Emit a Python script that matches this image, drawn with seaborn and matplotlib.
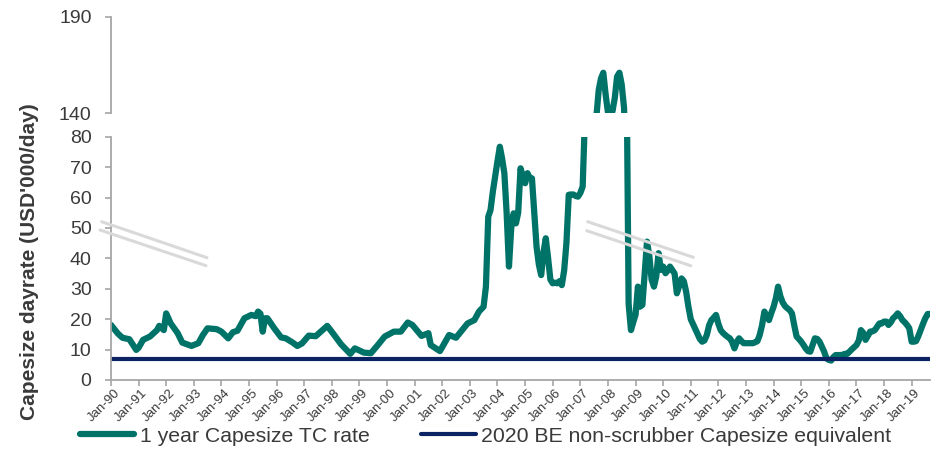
import pandas as pd
import seaborn as sns
import matplotlib.pyplot as plt
import matplotlib.dates as mdates
from matplotlib.lines import Line2D
from matplotlib.transforms import ScaledTranslation

# 1 year Capesize TC rate, USD'000/day
months = [
    "1990-01", "1990-04", "1990-06", "1990-09", "1990-12", "1991-01", "1991-03", "1991-06",
    "1991-09", "1991-10", "1991-12", "1992-01", "1992-03", "1992-06", "1992-08", "1992-12",
    "1993-03", "1993-05", "1993-07", "1993-11", "1994-01", "1994-04", "1994-06", "1994-08",
    "1994-11", "1995-02", "1995-04", "1995-05", "1995-06", "1995-07", "1995-08", "1995-09",
    "1995-12", "1996-03", "1996-05", "1996-08", "1996-10", "1996-12", "1997-03", "1997-06",
    "1997-11", "1998-02", "1998-05", "1998-09", "1998-11", "1999-03", "1999-06", "1999-09",
    "1999-12", "2000-04", "2000-07", "2000-10", "2000-12", "2001-04", "2001-07", "2001-08",
    "2001-12", "2002-04", "2002-07", "2002-12", "2003-03", "2003-05", "2003-07", "2003-08",
    "2003-09", "2003-10", "2003-11", "2003-12", "2004-01", "2004-02", "2004-03", "2004-04",
    "2004-05", "2004-06", "2004-07", "2004-08", "2004-09", "2004-10", "2004-11", "2004-12",
    "2005-01", "2005-02", "2005-03", "2005-04", "2005-05", "2005-06", "2005-07", "2005-08",
    "2005-09", "2005-10", "2005-11", "2005-12", "2006-01", "2006-02", "2006-03", "2006-04",
    "2006-05", "2006-06", "2006-07", "2006-08", "2006-09", "2006-10", "2006-11", "2006-12",
    "2007-01", "2007-02", "2007-03", "2007-04", "2007-05", "2007-06", "2007-07", "2007-08",
    "2007-09", "2007-10", "2007-11", "2007-12", "2008-01", "2008-02", "2008-03", "2008-04",
    "2008-05", "2008-06", "2008-07", "2008-08", "2008-09", "2008-10", "2008-11", "2008-12",
    "2009-01", "2009-02", "2009-03", "2009-04", "2009-05", "2009-06", "2009-07", "2009-08",
    "2009-09", "2009-10", "2009-11", "2009-12", "2010-01", "2010-02", "2010-03", "2010-04",
    "2010-05", "2010-06", "2010-07", "2010-08", "2010-09", "2010-10", "2010-11", "2010-12",
    "2011-01", "2011-02", "2011-03", "2011-04", "2011-05", "2011-06", "2011-07", "2011-08",
    "2011-09", "2011-10", "2011-11", "2011-12", "2012-01", "2012-02", "2012-03", "2012-04",
    "2012-05", "2012-06", "2012-07", "2012-08", "2012-09", "2012-10", "2012-11", "2012-12",
    "2013-02", "2013-04", "2013-05", "2013-06", "2013-07", "2013-08", "2013-09", "2013-10",
    "2013-11", "2013-12", "2014-01", "2014-02", "2014-03", "2014-04", "2014-05", "2014-06",
    "2014-07", "2014-08", "2014-09", "2014-10", "2014-11", "2014-12", "2015-01", "2015-02",
    "2015-03", "2015-04", "2015-05", "2015-06", "2015-07", "2015-08", "2015-09", "2015-10",
    "2015-11", "2015-12", "2016-01", "2016-02", "2016-03", "2016-04", "2016-05", "2016-06",
    "2016-07", "2016-08", "2016-09", "2016-10", "2016-11", "2016-12", "2017-01", "2017-02",
    "2017-03", "2017-04", "2017-05", "2017-06", "2017-07", "2017-08", "2017-09", "2017-10",
    "2017-11", "2017-12", "2018-01", "2018-02", "2018-03", "2018-04", "2018-05", "2018-06",
    "2018-07", "2018-08", "2018-09", "2018-10", "2018-11", "2018-12", "2019-01", "2019-02",
    "2019-03", "2019-04", "2019-05", "2019-06", "2019-07", "2019-08", "2019-09",
]
tc_rate = [
    18.1, 15.3, 13.9, 13.4, 9.9, 10.6, 13.2, 14.3,
    16.4, 17.8, 16.4, 21.9, 18.6, 15.4, 12.3, 11.2,
    12.1, 14.8, 17.0, 16.7, 15.9, 13.7, 15.7, 16.2,
    20.3, 21.4, 21.0, 22.5, 21.8, 15.9, 20.3, 20.3,
    17.0, 14.0, 13.7, 12.3, 11.2, 12.0, 14.6, 14.4,
    17.8, 14.8, 11.8, 8.6, 10.4, 9.0, 8.8, 11.5,
    14.3, 15.9, 15.9, 18.9, 18.1, 14.5, 15.4, 11.5,
    9.5, 14.8, 13.9, 18.6, 19.7, 22.5, 24.1, 30.7,
    53.7, 55.9, 62.0, 67.0, 72.0, 76.7, 73.0, 68.0,
    55.0, 37.3, 50.0, 54.8, 51.5, 55.0, 69.6, 67.0,
    64.7, 68.0, 66.5, 66.3, 55.0, 43.8, 38.0, 34.5,
    42.0, 46.6, 40.0, 33.0, 31.8, 32.0, 31.8, 32.5,
    31.2, 36.0, 45.0, 60.9, 61.0, 61.0, 60.5, 60.3,
    61.5, 63.6, 85.0, 100.0, 115.0, 124.0, 132.0, 138.0,
    152.0, 158.0, 161.0, 150.0, 140.6, 140.4, 141.0, 148.0,
    159.0, 161.0, 155.0, 143.0, 110.0, 25.0, 16.4, 19.0,
    21.5, 30.7, 24.1, 24.7, 35.0, 45.5, 41.0, 33.0,
    30.7, 34.0, 41.7, 36.2, 37.3, 35.1, 36.0, 37.3,
    36.2, 35.0, 28.5, 31.0, 33.4, 32.5, 29.0, 24.1,
    20.0, 18.3, 16.8, 15.0, 13.5, 12.6, 13.0, 14.8,
    18.0, 19.7, 20.5, 21.4, 18.5, 16.4, 15.5, 14.8,
    14.2, 13.7, 12.5, 10.4, 12.5, 13.7, 12.8, 12.1,
    12.1, 12.1, 12.4, 12.8, 14.8, 18.0, 22.5, 21.0,
    19.7, 22.0, 24.1, 27.0, 30.7, 27.5, 25.5, 24.3,
    23.6, 23.0, 21.9, 18.0, 14.3, 13.5, 12.6, 11.5,
    10.4, 9.5, 9.3, 11.5, 13.7, 13.5, 12.6, 11.0,
    9.3, 7.1, 6.6, 6.4, 7.5, 8.2, 8.2, 8.2,
    8.3, 8.6, 8.6, 9.3, 10.1, 10.8, 11.5, 13.0,
    16.4, 15.5, 13.2, 14.5, 15.9, 16.0, 16.4, 17.5,
    18.6, 18.6, 19.2, 19.2, 18.1, 19.0, 20.3, 21.0,
    21.9, 21.0, 19.7, 19.0, 18.1, 17.0, 12.6, 12.6,
    12.8, 14.5, 16.5, 18.5, 20.3, 21.7, 21.7,
]
# 2020 breakeven, non-scrubber Capesize equivalent
be_months = ["1990-01", "2019-09"]
be_level = [7.0, 7.0]

upper_ticks = [140, 190]
lower_ticks = [0, 10, 20, 30, 40, 50, 60, 70, 80]

TEAL = "#007369"
NAVY = "#0b2263"
GREY_TXT = "#3a3a3a"
AXIS_GREY = "#a6a6a6"
TEAL_LW = 4.5
NAVY_LW = 3.0

df = pd.DataFrame({"date": pd.to_datetime(months), "rate": tc_rate})
be = pd.DataFrame({"date": pd.to_datetime(be_months), "rate": be_level})

sns.set_theme(style="white")
plt.rcParams["font.family"] = ["Liberation Sans", "DejaVu Sans"]

W, H = 940, 449
fig = plt.figure(figsize=(W / 100, H / 100), dpi=100)
ax_top = fig.add_axes([111 / W, 1 - 113.3 / H, 819 / W, 96.6 / H])
ax = fig.add_axes([111 / W, 1 - 380 / H, 819 / W, 243.3 / H], sharex=ax_top)

for a in (ax_top, ax):
    sns.lineplot(data=df, x="date", y="rate", ax=a, color=TEAL, lw=TEAL_LW,
                 solid_joinstyle="round", solid_capstyle="round",
                 label="1 year Capesize TC rate", legend=False)
sns.lineplot(data=be, x="date", y="rate", ax=ax, color=NAVY, lw=NAVY_LW,
             label="2020 BE non-scrubber Capesize equivalent", legend=False)

ax_top.set_ylim(upper_ticks[0], upper_ticks[-1])
ax_top.set_yticks(upper_ticks)
ax.set_ylim(lower_ticks[0], lower_ticks[-1])
ax.set_yticks(lower_ticks)
ax.set_xlim(pd.Timestamp("1990-01-01"), pd.Timestamp("2019-09-01"))

for a in (ax_top, ax):
    a.set_xlabel("")
    a.set_ylabel("")
    for s in ("top", "right"):
        a.spines[s].set_visible(False)
    a.spines["left"].set_color(AXIS_GREY)
    a.spines["left"].set_linewidth(1.3)
    a.tick_params(axis="y", colors=AXIS_GREY, labelcolor=GREY_TXT, labelsize=14,
                  length=4, width=1.2, direction="out", left=True, pad=10)

ax_top.spines["bottom"].set_visible(False)
ax_top.tick_params(axis="x", bottom=False, labelbottom=False)

ax.spines["bottom"].set_color(AXIS_GREY)
ax.spines["bottom"].set_linewidth(1.3)
ax.xaxis.set_major_locator(mdates.YearLocator(1, month=1, day=1))
ax.xaxis.set_major_formatter(mdates.DateFormatter("%b-%y"))
ax.tick_params(axis="x", colors=AXIS_GREY, labelcolor=GREY_TXT, labelsize=9.5,
               length=4, width=1.2, direction="out", bottom=True, pad=2)
shift = ScaledTranslation(5 / 72, -2 / 72, fig.dpi_scale_trans)
for lab in ax.get_xticklabels():
    lab.set_rotation(45)
    lab.set_ha("right")
    lab.set_va("center")
    lab.set_rotation_mode("anchor")
    lab.set_transform(lab.get_transform() + shift)

fig.text(30 / W, 1 - 262 / H, "Capesize dayrate (USD'000/day)", rotation=90,
         ha="center", va="center", fontsize=15, fontweight="bold", color=GREY_TXT)

# axis-break marks
for (x0, y0, x1, y1) in [(101.7, 221.7, 207, 257.7), (100, 230, 206, 265.7),
                         (587.7, 221.7, 693.3, 257.3), (586.7, 230.7, 690.7, 265.7)]:
    fig.add_artist(Line2D([x0 / W, x1 / W], [1 - y0 / H, 1 - y1 / H],
                          transform=fig.transFigure, color="#d9d9d9", lw=2.2))

handles = [Line2D([], [], color=TEAL, lw=TEAL_LW, solid_capstyle="round"),
           Line2D([], [], color=NAVY, lw=NAVY_LW, solid_capstyle="round")]
fig.legend(handles, ["1 year Capesize TC rate", "2020 BE non-scrubber Capesize equivalent"],
           loc="center left", bbox_to_anchor=(80 / W, 1 - 436 / H), ncol=2,
           frameon=False, fontsize=15.3, handlelength=2.55, handletextpad=0.25,
           columnspacing=2.45, borderpad=0, borderaxespad=0, labelcolor=GREY_TXT)

fig.savefig("out.png", dpi=100)
